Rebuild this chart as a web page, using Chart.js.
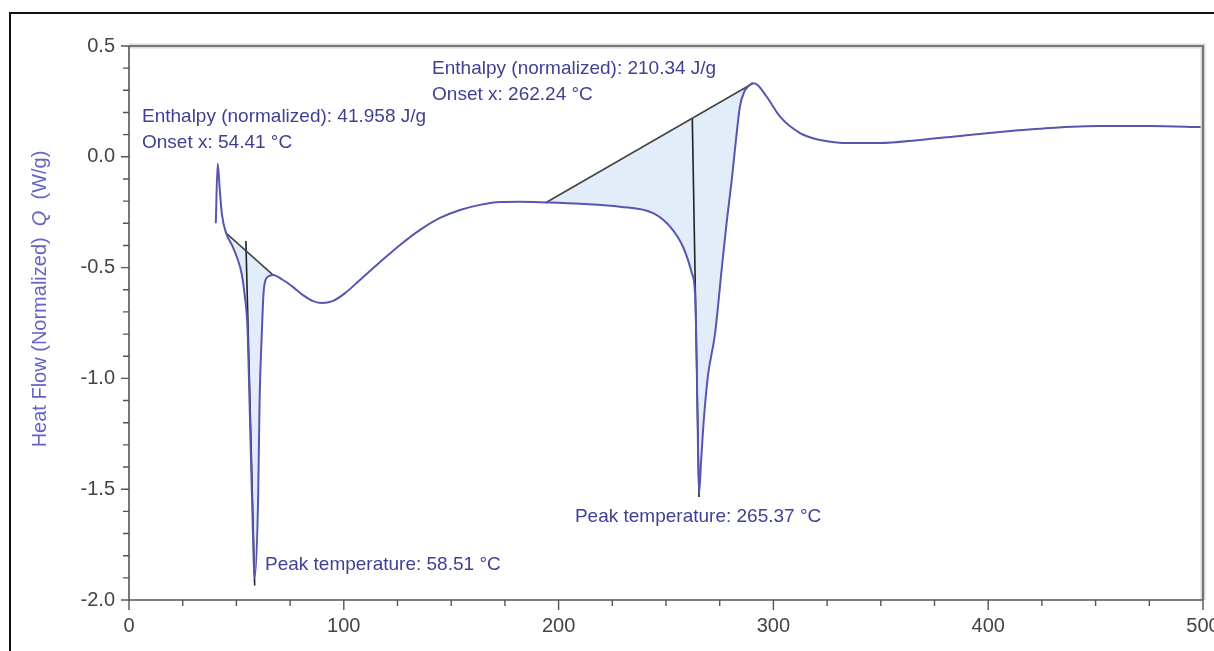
<!DOCTYPE html>
<html><head><meta charset="utf-8">
<script src="https://cdn.jsdelivr.net/npm/chart.js@4"></script>
<style>html,body{margin:0;padding:0;background:#fff;}canvas{display:block;}</style>
</head><body>
<canvas id="c" width="1214" height="651"></canvas>
<script>
// ---- data ----
const temperature = [40.4,41.3,42.2,43.2,45.2,48.0,50.5,52.5,53.8,55.2,56.1,57.3,58.51,60.1,60.8,61.9,62.6,63.6,65.2,67.0,
  71.7,76.4,81.0,85.7,89.9,95.0,100.6,107.5,116.9,126.2,135.5,144.8,154.1,163.4,172.7,182.0,194.2,210.0,228.6,244.0,
  251.9,257.9,262.0,263.5,264.2,264.7,265.37,266.3,267.5,269.5,272.8,276.0,278.3,280.6,282.5,284.4,286.5,288.3,290.5,
  292.5,296.9,303.1,312.4,321.7,335.7,349.6,368.2,386.9,405.5,428.8,452.0,475.3,500.0];
const heatFlow = [-0.30,-0.03,-0.14,-0.255,-0.344,-0.40,-0.46,-0.53,-0.62,-0.78,-1.10,-1.55,-1.90,-1.55,-1.10,-0.78,-0.62,-0.555,-0.538,-0.533,
  -0.556,-0.588,-0.624,-0.651,-0.660,-0.650,-0.615,-0.556,-0.475,-0.398,-0.330,-0.276,-0.240,-0.217,-0.204,-0.203,-0.206,-0.212,-0.225,-0.254,
  -0.315,-0.406,-0.524,-0.615,-0.87,-1.19,-1.52,-1.38,-1.20,-0.99,-0.80,-0.50,-0.29,-0.105,0.07,0.226,0.295,0.318,0.332,
  0.325,0.271,0.181,0.107,0.076,0.062,0.062,0.076,0.094,0.112,0.130,0.139,0.139,0.134];
const baseline1T = [45.2, 67.0];
const baseline1Q = [-0.344, -0.533];
const baseline2T = [194.2, 290.5];
const baseline2Q = [-0.206, 0.332];
const peakLine1T = [54.41, 58.51];
const peakLine1Q = [-0.38, -1.935];
const peakLine2T = [262.24, 265.37];
const peakLine2Q = [0.174, -1.535];
const xMajorTicks = [0, 100, 200, 300, 400, 500];
const xTickLabels = ['0', '100', '200', '300', '400', '500'];
const xMinorTicks = [25,50,75,125,150,175,225,250,275,325,350,375,425,450,475];
const yMajorTicks = [0.5, 0.0, -0.5, -1.0, -1.5, -2.0];
const yTickLabels = ['0.5', '0.0', '-0.5', '-1.0', '-1.5', '-2.0'];
const yMinorTicks = [0.4,0.3,0.2,0.1,-0.1,-0.2,-0.3,-0.4,-0.6,-0.7,-0.8,-0.9,-1.1,-1.2,-1.3,-1.4,-1.6,-1.7,-1.8,-1.9];
const annotationTexts = [
  ['Enthalpy (normalized): 41.958 J/g', 'Onset x: 54.41 °C'],
  ['Enthalpy (normalized): 210.34 J/g', 'Onset x: 262.24 °C'],
  ['Peak temperature: 58.51 °C'],
  ['Peak temperature: 265.37 °C']
];

// ---- placement / style ----
const annotationAnchors = [{t:6.05,q:0.18},{t:141.1,q:0.396},{t:63.3,q:-1.842},{t:207.6,q:-1.625}];
const FONT = '"Liberation Sans", Arial, sans-serif';
const CURVE = '#5656b2';
const FILL = 'rgba(226,236,249,0.95)';
const TEXT = '#3f3f96';

const pts = temperature.map((t,i)=>({x:t, y:heatFlow[i]}));
const pairs = (T,Q)=>T.map((t,i)=>({x:t, y:Q[i]}));
const sub = (t0,t1)=>pts.filter(p=>p.x>=t0-1e-9 && p.x<=t1+1e-9);

const base = {pointRadius:0, pointHoverRadius:0, fill:false, tension:0};

const decor = {
  id:'decor',
  afterDraw(chart){
    const c = chart.ctx, a = chart.chartArea, xs = chart.scales.x, ys = chart.scales.y;
    c.save();
    c.lineCap='butt';
    c.strokeStyle='#dcdcdc'; c.lineWidth=5;
    c.beginPath(); c.moveTo(a.left, a.top); c.lineTo(a.right, a.top); c.lineTo(a.right, a.bottom); c.stroke();
    c.strokeStyle='#777'; c.lineWidth=2.2;
    c.beginPath(); c.moveTo(a.left, a.top); c.lineTo(a.right, a.top); c.lineTo(a.right, a.bottom); c.stroke();
    c.strokeStyle='#555'; c.lineWidth=1.6;
    c.beginPath(); c.moveTo(a.left, a.top); c.lineTo(a.left, a.bottom); c.lineTo(a.right, a.bottom); c.stroke();
    c.lineWidth=1.4; c.strokeStyle='#555';
    c.beginPath();
    xMajorTicks.forEach(v=>{const p=xs.getPixelForValue(v); c.moveTo(p,a.bottom); c.lineTo(p,a.bottom+10);});
    xMinorTicks.forEach(v=>{const p=xs.getPixelForValue(v); c.moveTo(p,a.bottom); c.lineTo(p,a.bottom+6);});
    yMajorTicks.forEach(v=>{const p=ys.getPixelForValue(v); c.moveTo(a.left-8,p); c.lineTo(a.left,p);});
    yMinorTicks.forEach(v=>{const p=ys.getPixelForValue(v); c.moveTo(a.left-6,p); c.lineTo(a.left,p);});
    c.stroke();
    c.fillStyle='#444'; c.font='20px '+FONT;
    c.textAlign='center'; c.textBaseline='middle';
    xMajorTicks.forEach((v,i)=>c.fillText(xTickLabels[i], xs.getPixelForValue(v), a.bottom+26));
    c.textAlign='right';
    yMajorTicks.forEach((v,i)=>c.fillText(yTickLabels[i], a.left-14, ys.getPixelForValue(v)));
    c.fillStyle=TEXT; c.font='19px '+FONT; c.textAlign='left';
    annotationTexts.forEach((lines,k)=>{
      const x = xs.getPixelForValue(annotationAnchors[k].t), y = ys.getPixelForValue(annotationAnchors[k].q);
      lines.forEach((s,j)=>c.fillText(s, x, y + j*26));
    });
    c.save();
    c.translate(40, 299); c.rotate(-Math.PI/2);
    const parts = [['Heat Flow (Normalized)  ', ''], ['Q', 'italic '], ['  (W/g)', '']];
    let total = 0;
    parts.forEach(p=>{c.font=p[1]+'20px '+FONT; total += c.measureText(p[0]).width;});
    let x0 = -total/2;
    c.fillStyle='#6464c8'; c.textAlign='left'; c.textBaseline='middle';
    parts.forEach(p=>{c.font=p[1]+'20px '+FONT; c.fillText(p[0], x0, 0); x0 += c.measureText(p[0]).width;});
    c.restore();
    c.strokeStyle='#111'; c.lineWidth=2;
    c.beginPath(); c.moveTo(10, 651); c.lineTo(10, 13); c.lineTo(1214, 13); c.stroke();
    c.restore();
  }
};

new Chart(document.getElementById('c'), {
  type:'line',
  data:{datasets:[
    Object.assign({}, base, {label:'Heat flow', data:pts, borderColor:CURVE, borderWidth:2, cubicInterpolationMode:'monotone'}),
    Object.assign({}, base, {label:'area1', data:sub(baseline1T[0], baseline1T[1]), borderColor:'rgba(0,0,0,0)', borderWidth:0, cubicInterpolationMode:'monotone', fill:2, backgroundColor:FILL}),
    Object.assign({}, base, {label:'baseline1', data:pairs(baseline1T, baseline1Q), borderColor:'#444', borderWidth:1.6}),
    Object.assign({}, base, {label:'area2', data:sub(baseline2T[0], baseline2T[1]), borderColor:'rgba(0,0,0,0)', borderWidth:0, cubicInterpolationMode:'monotone', fill:4, backgroundColor:FILL}),
    Object.assign({}, base, {label:'baseline2', data:pairs(baseline2T, baseline2Q), borderColor:'#444', borderWidth:1.6}),
    Object.assign({}, base, {label:'peak1', data:pairs(peakLine1T, peakLine1Q), borderColor:'#222', borderWidth:1.6}),
    Object.assign({}, base, {label:'peak2', data:pairs(peakLine2T, peakLine2Q), borderColor:'#222', borderWidth:1.6})
  ]},
  options:{
    responsive:false, animation:false, devicePixelRatio:1,
    layout:{padding:{left:0, top:46, right:11, bottom:0}},
    plugins:{legend:{display:false}, tooltip:{enabled:false}, filler:{drawTime:'beforeDatasetsDraw'}},
    scales:{
      x:{type:'linear', min:0, max:500, ticks:{display:false}, grid:{display:false}, border:{display:false}, afterFit(s){s.height=51;}},
      y:{type:'linear', min:-2, max:0.5, ticks:{display:false}, grid:{display:false}, border:{display:false}, afterFit(s){s.width=129;}}
    }
  },
  plugins:[decor]
});
</script>
</body></html>
